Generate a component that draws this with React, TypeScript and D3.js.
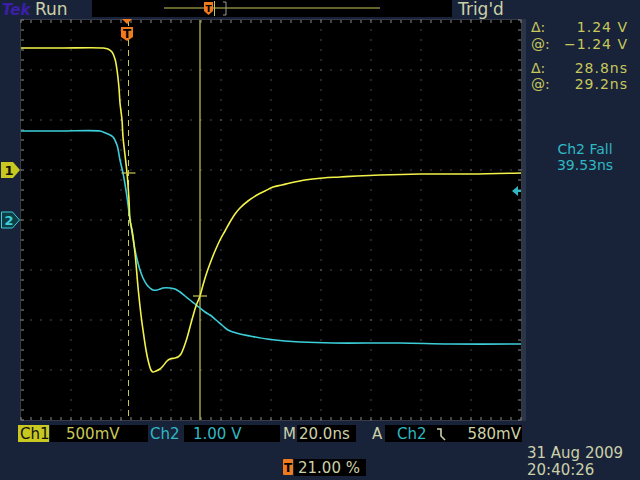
import React from "react";
import * as d3 from "d3";

// Channel 1 (yellow) — time in ns from left edge of screen, volts
const ch1Time = [0, 15.6, 32.8, 34.8, 36.4, 37.6, 38.4, 39.2, 39.6, 40.4, 40.8, 41.6, 42.4, 43.2, 43.6, 44.4, 45.6, 46.8, 48.0, 48.8, 50.0, 50.8, 52.0, 52.8, 54.0, 55.6, 56.8, 58.4, 59.6, 61.6, 62.8, 64.0, 65.2, 66.4, 67.6, 68.8, 70.0, 71.6, 72.8, 74.4, 76.0, 77.6, 79.6, 81.6, 83.6, 85.6, 87.6, 90.8, 94.4, 97.6, 100.8, 104.4, 107.6, 113.6, 120.8, 127.6, 134.4, 143.6, 159.6, 179.6, 200];
const ch1Volts = [1.22, 1.22, 1.22, 1.21, 1.18, 1.11, 1.0, 0.82, 0.67, 0.5, 0.33, 0.15, -0.03, -0.3, -0.5, -0.6, -0.83, -1.17, -1.45, -1.6, -1.8, -1.9, -2.0, -2.02, -2.01, -1.99, -1.96, -1.91, -1.89, -1.88, -1.87, -1.84, -1.77, -1.68, -1.57, -1.46, -1.36, -1.26, -1.15, -1.02, -0.91, -0.81, -0.7, -0.61, -0.52, -0.44, -0.38, -0.31, -0.25, -0.21, -0.17, -0.15, -0.13, -0.1, -0.08, -0.07, -0.06, -0.05, -0.04, -0.04, -0.03];

// Channel 2 (cyan)
const ch2Time = [0, 15.6, 31.6, 32.8, 34.8, 36.8, 38.4, 39.6, 40.8, 41.6, 42.4, 43.6, 44.4, 45.6, 46.8, 47.6, 48.8, 50.4, 51.6, 52.8, 54.4, 55.6, 56.8, 59.6, 61.6, 63.6, 65.6, 67.6, 69.6, 71.6, 73.6, 75.6, 78.0, 80.8, 82.8, 84.8, 87.6, 91.6, 98.4, 105.6, 111.6, 124.8, 151.6, 171.6, 200];
const ch2Volts = [1.78, 1.78, 1.78, 1.76, 1.72, 1.66, 1.5, 1.2, 0.94, 0.72, 0.46, 0.0, -0.24, -0.6, -0.86, -1.0, -1.16, -1.3, -1.36, -1.4, -1.4, -1.38, -1.36, -1.36, -1.38, -1.44, -1.52, -1.6, -1.68, -1.76, -1.84, -1.9, -2.0, -2.12, -2.2, -2.24, -2.28, -2.32, -2.38, -2.42, -2.44, -2.46, -2.46, -2.48, -2.48];

// Cursors (ns) and the Ch1 level at each cursor (V)
const cursorTimes = [43.0, 71.6];
const cursorVolts = [-0.03, -1.26];
const triggerTime = 42.4;
const triggerLevelCh2 = 0.58;

const rightReadouts = [
  ["Δ:", "1.24 V"],
  ["@:", "−1.24 V"],
  ["Δ:", "28.8ns"],
  ["@:", "29.2ns"],
];

const FONT = "DejaVu Sans, Verdana, sans-serif";
const BG = "#18233a";
const YEL = "#f2f24a";
const CYAN = "#3ccfda";
const OLIVE = "#c8c85a";
const PALE = "#ccd0a8";

export default function App() {
  const L = 21, R = 521, T = 20, B = 420;
  const x = d3.scaleLinear().domain([0, 200]).range([L, R]);
  const y1 = d3.scaleLinear().domain([-2.5, 1.5]).range([B, T]);
  const y2 = d3.scaleLinear().domain([-4, 4]).range([B, T]);

  const line1 = d3
    .line<number>()
    .x((_, i) => x(ch1Time[i]))
    .y((d) => y1(d))
    .curve(d3.curveCatmullRom.alpha(0.5));
  const line2 = d3
    .line<number>()
    .x((_, i) => x(ch2Time[i]))
    .y((d) => y2(d))
    .curve(d3.curveCatmullRom.alpha(0.5));

  const dots: JSX.Element[] = [];
  const xDivs = d3.range(0, 201, 20);
  const yDivs = d3.range(-4, 4.01, 1);
  xDivs.slice(1, -1).forEach((t) => {
    for (let yy = T; yy <= B; yy += 10)
      dots.push(<rect key={`v${t}-${yy}`} x={x(t) - 0.5} y={yy - 0.5} width={1} height={1} fill="#8a8a8a" />);
  });
  yDivs.slice(1, -1).forEach((v) => {
    for (let xx = L; xx <= R; xx += 10)
      dots.push(<rect key={`h${v}-${xx}`} x={xx - 0.5} y={y2(v) - 0.5} width={1} height={1} fill="#8a8a8a" />);
  });
  const ticks: JSX.Element[] = [];
  for (let xx = L; xx <= R; xx += 10) {
    ticks.push(<line key={`tt${xx}`} x1={xx} x2={xx} y1={T} y2={T + 3} stroke="#8a8a8a" />);
    ticks.push(<line key={`tb${xx}`} x1={xx} x2={xx} y1={B} y2={B - 3} stroke="#8a8a8a" />);
  }
  for (let yy = T; yy <= B; yy += 10) {
    ticks.push(<line key={`tl${yy}`} x1={L} x2={L + 3} y1={yy} y2={yy} stroke="#8a8a8a" />);
    ticks.push(<line key={`tr${yy}`} x1={R} x2={R - 3} y1={yy} y2={yy} stroke="#8a8a8a" />);
  }

  const c1x = x(cursorTimes[0]);
  const c2x = x(cursorTimes[1]);
  const tx = x(triggerTime);
  const g1 = y1(0);
  const g2 = y2(0);
  const trigY = y2(triggerLevelCh2);

  return (
    <svg
      width={640}
      height={480}
      style={{ position: "absolute", left: 0, top: 0, fontFamily: FONT }}
    >
      <rect x={0} y={0} width={640} height={480} fill={BG} />
      {/* header */}
      <text x={2} y={15} fontSize={15} fontWeight="bold" fill="#3b1fa8" fontStyle="italic">Tek</text>
      <text x={35} y={15} fontSize={17} fill={PALE}>Run</text>
      <rect x={92} y={0} width={360} height={17} fill="#000" />
      <line x1={164} x2={380} y1={8} y2={8} stroke={OLIVE} strokeWidth={1} />
      <path d="M204,2 h9 v9 l-4.5,4 l-4.5,-4 z" fill="#f07a1e" />
      <text x={208.5} y={12} fontSize={9} fontWeight="bold" textAnchor="middle" fill="#000">T</text>
      <line x1={214.5} x2={214.5} y1={1} y2={16} stroke={OLIVE} />
      <path d="M223,2 h3 v13 h-3" fill="none" stroke="#9a9a9a" />
      <text x={458} y={15} fontSize={17} fill={PALE}>Trig'd</text>

      {/* plot area */}
      <rect x={L} y={T} width={R - L} height={B - T} fill="#000" />
      <rect x={L - 0.5} y={T - 0.5} width={R - L + 1} height={B - T + 1} fill="none" stroke="#555" strokeDasharray="1,1" />
      <rect x={R + 1} y={T - 1} width={4} height={B - T + 2} fill="#2a3548" />
      {dots}
      {ticks}

      {/* cursors */}
      <line x1={c1x} x2={c1x} y1={T} y2={B} stroke={OLIVE} strokeWidth={1} strokeDasharray="6,4" />
      <line x1={c2x} x2={c2x} y1={T} y2={B} stroke={OLIVE} strokeWidth={1.2} />

      {/* traces */}
      <path d={line2(ch2Volts) || ""} fill="none" stroke={CYAN} strokeWidth={1.6} />
      <path d={line1(ch1Volts) || ""} fill="none" stroke={YEL} strokeWidth={1.6} />

      {/* cursor crosses */}
      {cursorTimes.map((t, i) => (
        <line key={`cc${i}`} x1={x(t) - 7} x2={x(t) + 7} y1={y1(cursorVolts[i])} y2={y1(cursorVolts[i])} stroke={OLIVE} strokeWidth={1.2} />
      ))}

      {/* trigger T marker */}
      <path d={`M${tx - 5},${T - 1} h10 l-5,5 z`} fill="#f07a1e" />
      <path d={`M${tx - 6},${T + 7} h12 v10 l-6,4 l-6,-4 z`} fill="#f07a1e" />
      <text x={tx} y={T + 18} fontSize={12} fontWeight="bold" textAnchor="middle" fill="#000">T</text>

      {/* channel markers */}
      <path d={`M1,${g1 - 8} h12 l7,8 l-7,8 h-12 z`} fill="#c9c820" />
      <text x={9} y={g1 + 5} fontSize={13} fontWeight="bold" textAnchor="middle" fill="#111">1</text>
      <path d={`M1.5,${g2 - 8} h11 l7,8 l-7,8 h-11 z`} fill="#0d3d45" stroke={CYAN} strokeWidth={1} />
      <text x={9} y={g2 + 5} fontSize={13} fontWeight="bold" textAnchor="middle" fill={CYAN}>2</text>

      {/* trigger level arrow */}
      <path d={`M${R - 9},${trigY} l6,-5 v10 z`} fill="#2fb8c2" />
      <line x1={R - 4} x2={R} y1={trigY} y2={trigY} stroke="#2fb8c2" strokeWidth={2} />

      {/* right readouts */}
      {rightReadouts.map(([a, b], i) => {
        const yy = [32, 49, 73, 89][i];
        return (
          <g key={`ro${i}`} fontSize={14} fill={OLIVE}>
            <text x={531} y={yy}>{a}</text>
            <text x={628} y={yy} textAnchor="end" letterSpacing={1}>{b}</text>
          </g>
        );
      })}
      <text x={585} y={154} fontSize={14} fill="#2fb8c2" textAnchor="middle">Ch2 Fall</text>
      <text x={585} y={170} fontSize={14} fill="#2fb8c2" textAnchor="middle">39.53ns</text>

      {/* bottom status */}
      <rect x={18} y={425} width={31} height={17} fill="#c9c820" />
      <text x={20} y={439} fontSize={15} fill="#111">Ch1</text>
      <rect x={50} y={425} width={98} height={17} fill="#000" />
      <text x={66} y={439} fontSize={15} fill={OLIVE}>500mV</text>
      <text x={150} y={439} fontSize={15} fill="#2fb8c2">Ch2</text>
      <rect x={184} y={425} width={96} height={17} fill="#000" />
      <text x={193} y={439} fontSize={15} fill="#2fb8c2">1.00 V</text>
      <text x={283} y={439} fontSize={15} fill={PALE}>M</text>
      <rect x={297} y={425} width={59} height={17} fill="#000" />
      <text x={299} y={439} fontSize={15} fill={PALE}>20.0ns</text>
      <text x={372} y={439} fontSize={15} fill={PALE}>A</text>
      <rect x={385} y={425} width={137} height={17} fill="#000" />
      <text x={397} y={439} fontSize={15} fill="#2fb8c2">Ch2</text>
      <path d="M437,429 h4 v7 l4,4" fill="none" stroke={PALE} strokeWidth={1.6} />
      <text x={521} y={439} fontSize={15} fill={PALE} textAnchor="end">580mV</text>

      <rect x={283} y={459} width={10} height={16} rx={1} fill="#f07a1e" />
      <text x={288} y={472} fontSize={12} fontWeight="bold" textAnchor="middle" fill="#000">T</text>
      <rect x={294} y={459} width={72} height={17} fill="#000" />
      <text x={298} y={473} fontSize={15} fill={PALE}>21.00 %</text>

      <text x={527} y={458} fontSize={15} fill={PALE}>31 Aug 2009</text>
      <text x={527} y={475} fontSize={15} fill={PALE}>20:40:26</text>
    </svg>
  );
}
